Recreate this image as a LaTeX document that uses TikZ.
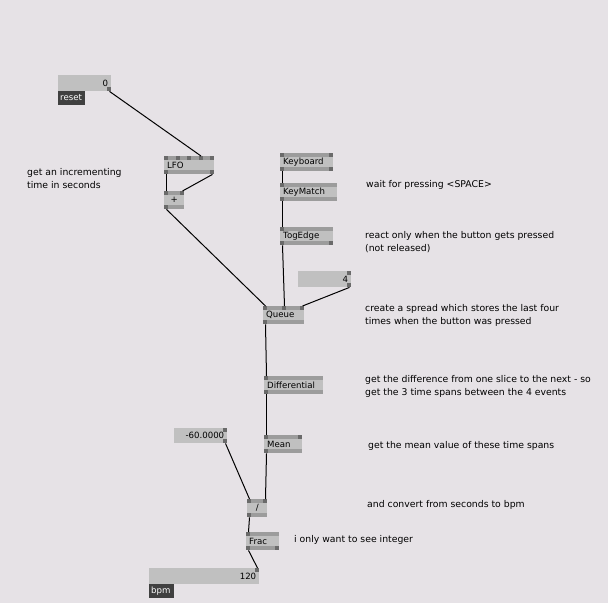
\documentclass[tikz,border=0pt]{standalone}
\usepackage{fontspec}
\setmainfont{DejaVu Sans}
\usetikzlibrary{positioning}

\definecolor{patchbg}{HTML}{E6E2E6}
\definecolor{boxgray}{HTML}{C0C0C0}
\definecolor{bandgray}{HTML}{9C9C9C}
\definecolor{pingray}{HTML}{6A6A6A}
\definecolor{tagdark}{HTML}{404040}

\newcommand{\pinsup}[2]{\foreach \o in {#2} \fill[pingray] ([xshift=\o pt]#1.north west) rectangle ++(4pt,-4pt);}
\newcommand{\pinsdown}[2]{\foreach \o in {#2} \fill[pingray] ([xshift=\o pt]#1.south west) rectangle ++(4pt,4pt);}

\begin{document}
\begin{tikzpicture}[x=1pt, y=-1pt, font=\fontsize{8.6}{13}\selectfont,
    box/.style={fill=boxgray, anchor=north west, inner xsep=3pt, inner ysep=0pt,
        minimum height=18pt, text width=#1, align=left,
        path picture={
            \fill[bandgray] (path picture bounding box.north west) rectangle ([yshift=-4pt]path picture bounding box.north east);
            \fill[bandgray] (path picture bounding box.south west) rectangle ([yshift=4pt]path picture bounding box.south east);}},
    iobox/.style={fill=boxgray, anchor=north west, inner xsep=3pt, inner ysep=0pt,
        minimum height=16pt, text width=#1, align=right},
    tag/.style={fill=tagdark, text=white, anchor=north west, inner xsep=2pt, inner ysep=0pt,
        minimum height=13.5pt, text width=#1, align=left},
    note/.style={anchor=base west, inner sep=0pt, align=left, font=\fontsize{9.3}{13}\selectfont},
    link/.style={draw=black, line width=1pt}]

    \fill[patchbg] (0,0) rectangle (608,603);
    \useasboundingbox (0,0) rectangle (608,603);

    \node[iobox=47pt] (reset) at (58,75) {0};
    \node[tag=23pt] (resettag) at (58,91) {reset};
    \node[box=44pt] (lfo) at (164,156) {LFO};
    \node[box=14pt, align=center] (plus) at (164,191) {+};

    \node[box=47pt] (keyboard) at (280,153) {Keyboard};
    \node[box=51pt] (keymatch) at (280,183) {KeyMatch};
    \node[box=47pt] (togedge) at (280,227) {TogEdge};
    \node[iobox=47pt] (count) at (298,271) {4};
    \node[box=35pt] (queue) at (263,306) {Queue};

    \node[box=53pt] (diff) at (264,376) {Differential};
    \node[box=32pt] (mean) at (264,435) {Mean};
    \node[iobox=47pt, minimum height=15pt] (bpmconst) at (174,428) {-60.0000};
    \node[box=14pt, align=center] (div) at (247,499) {/};
    \node[box=27pt] (frac) at (246,532) {Frac};
    \node[iobox=104pt] (bpm) at (149,568) {120};
    \node[tag=21pt] (bpmtag) at (149,584) {bpm};

    \pinsdown{reset}{49}
    \pinsup{lfo}{0,11.5,23,34.5,46} \pinsdown{lfo}{0,46}
    \pinsup{plus}{0,16} \pinsdown{plus}{0}
    \pinsup{keyboard}{0,49} \pinsdown{keyboard}{0,49}
    \pinsup{keymatch}{0} \pinsdown{keymatch}{0}
    \pinsup{togedge}{0} \pinsdown{togedge}{0,49}
    \pinsup{count}{49} \pinsdown{count}{49}
    \pinsup{queue}{0,19,37} \pinsdown{queue}{0}
    \pinsup{diff}{0} \pinsdown{diff}{0}
    \pinsup{mean}{0,34} \pinsdown{mean}{0}
    \pinsup{bpmconst}{49} \pinsdown{bpmconst}{49}
    \pinsup{div}{0,16} \pinsdown{div}{0}
    \pinsup{frac}{0} \pinsdown{frac}{0,29}
    \pinsup{bpm}{106}

    \draw[link] ([xshift=51.5pt]reset.south west) -- ([xshift=37pt]lfo.north west);
    \draw[link] ([xshift=2.5pt]lfo.south west) -- ([xshift=2.5pt]plus.north west);
    \draw[link] ([xshift=48.5pt]lfo.south west) -- ([xshift=18.5pt]plus.north west);
    \draw[link] ([xshift=2.5pt]plus.south west) -- ([xshift=2.5pt]queue.north west);
    \draw[link] ([xshift=2.5pt]keyboard.south west) -- ([xshift=2.5pt]keymatch.north west);
    \draw[link] ([xshift=2.5pt]keymatch.south west) -- ([xshift=2.5pt]togedge.north west);
    \draw[link] ([xshift=2.5pt]togedge.south west) -- ([xshift=21.5pt]queue.north west);
    \draw[link] ([xshift=51.5pt]count.south west) -- ([xshift=39.5pt]queue.north west);
    \draw[link] ([xshift=2.5pt]queue.south west) -- ([xshift=2.5pt]diff.north west);
    \draw[link] ([xshift=2.5pt]diff.south west) -- ([xshift=2.5pt]mean.north west);
    \draw[link] ([xshift=2.5pt]mean.south west) -- ([xshift=18.5pt]div.north west);
    \draw[link] ([xshift=51.5pt]bpmconst.south west) -- ([xshift=2.5pt]div.north west);
    \draw[link] ([xshift=2.5pt]div.south west) -- ([xshift=2.5pt]frac.north west);
    \draw[link] ([xshift=2.5pt]frac.south west) -- ([xshift=108.5pt]bpm.north west);

    \node[note] (incnote) at (27,188) {get an incrementing\\time in seconds};
    \node[note] (waitnote) at (366,187) {wait for pressing <SPACE>};
    \node[note] (edgenote) at (365,251) {react only when the button gets pressed\\(not released)};
    \node[note] (queuenote) at (365,324) {create a spread which stores the last four\\times when the button was pressed};
    \node[note] (diffnote) at (365,395) {get the difference from one slice to the next - so\\get the 3 time spans between the 4 events};
    \node[note] (meannote) at (368,448) {get the mean value of these time spans};
    \node[note] (divnote) at (367,507) {and convert from seconds to bpm};
    \node[note] (fracnote) at (294,542) {i only want to see integer};
\end{tikzpicture}
\end{document}
